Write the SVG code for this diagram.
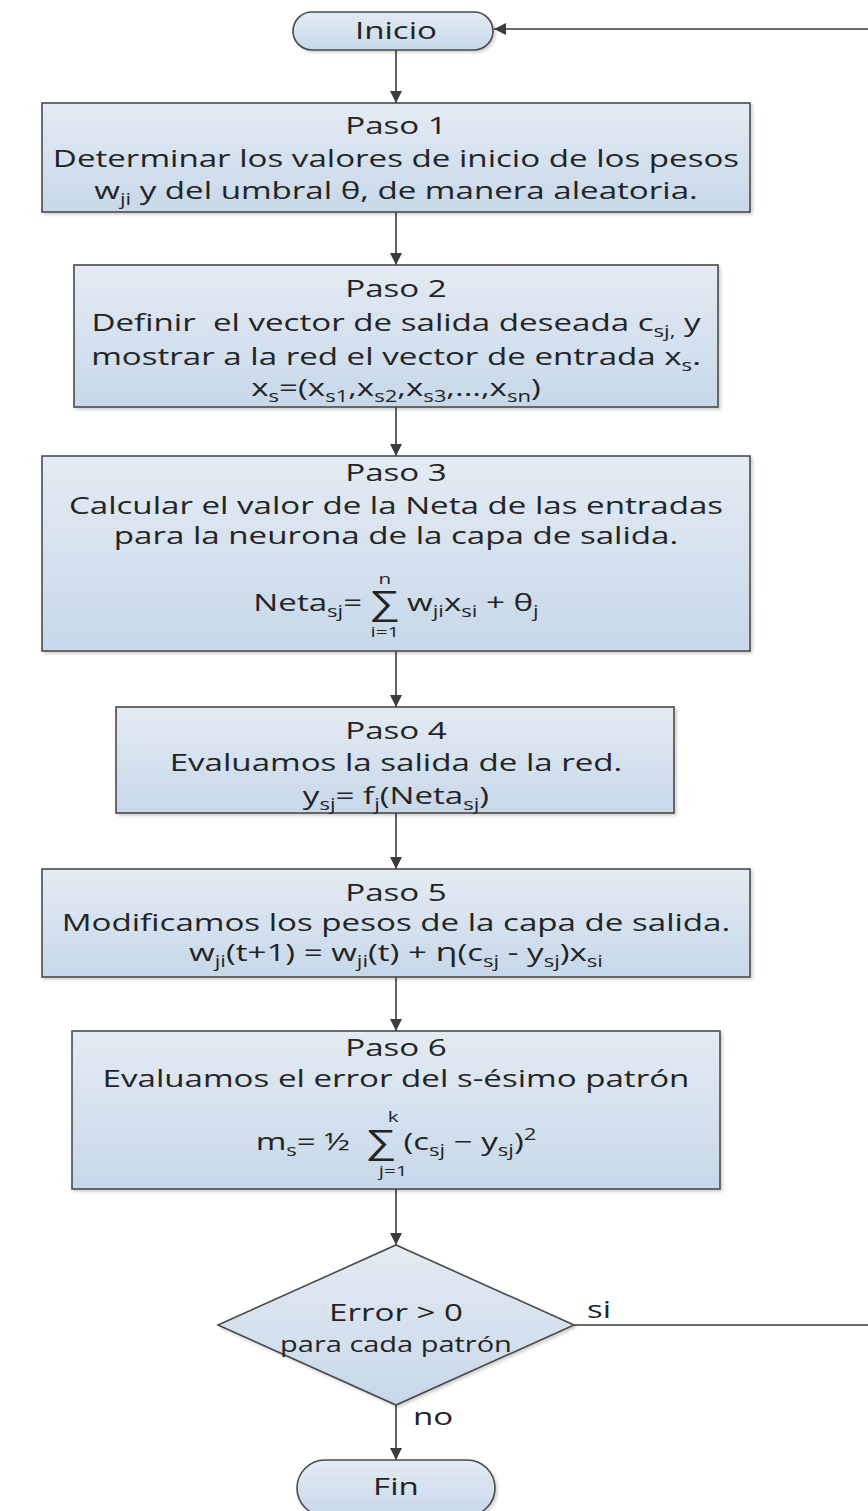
<svg xmlns="http://www.w3.org/2000/svg" width="868" height="1511" viewBox="0 0 868 1511">
<style>
.shape{fill:url(#gb);stroke:#4a4a4a;stroke-width:1.6;filter:url(#sh)}
.t{font-family:"Open Sans","Liberation Sans",sans-serif;font-size:24px;fill:#242424;text-anchor:middle}
.ts{text-anchor:start}
.sb{font-size:16px}
.sm{font-size:21px}
.sg{font-size:32px}
.lim{font-family:"Open Sans","Liberation Sans",sans-serif;font-size:15px;fill:#242424;text-anchor:middle}
.cn{fill:none;stroke:#3c3c3c;stroke-width:1.6}
</style>
<defs>
<linearGradient id="gb" x1="0" y1="0" x2="0" y2="1">
<stop offset="0" stop-color="#e4ebf3"/>
<stop offset="1" stop-color="#c7d8ea"/>
</linearGradient>
<filter id="sh" x="-5%" y="-5%" width="110%" height="115%">
<feDropShadow dx="2" dy="2" stdDeviation="1.5" flood-color="#000" flood-opacity="0.18"/>
</filter>
<marker id="ah" viewBox="0 0 12 12" refX="12" refY="6" markerWidth="12" markerHeight="12" markerUnits="userSpaceOnUse" orient="auto">
<path d="M0,0 L12,6 L0,12 z" fill="#3c3c3c"/>
</marker>
</defs>

<g id="connectors">
<path class="cn" d="M396,50 V103" marker-end="url(#ah)"/>
<path class="cn" d="M396,212 V265" marker-end="url(#ah)"/>
<path class="cn" d="M396,407 V456" marker-end="url(#ah)"/>
<path class="cn" d="M396,651 V707" marker-end="url(#ah)"/>
<path class="cn" d="M396,813 V869" marker-end="url(#ah)"/>
<path class="cn" d="M396,977 V1031" marker-end="url(#ah)"/>
<path class="cn" d="M396,1189 V1245" marker-end="url(#ah)"/>
<path class="cn" d="M396,1405 V1460" marker-end="url(#ah)"/>
<path class="cn" d="M574,1325 H872 V29 H494" marker-end="url(#ah)"/>
<text class="t ts" x="587" y="1318" transform="matrix(1.38 0 0 1 -223 0)">si</text>
<text class="t ts" x="413" y="1425" transform="matrix(1.38 0 0 1 -157 0)">no</text>
</g>

<g id="inicio">
<rect class="shape" x="293" y="12" width="200" height="38" rx="19"/>
<text class="t" x="396" y="39" transform="matrix(1.38 0 0 1 -150.48 0)">Inicio</text>
</g>

<g id="paso1">
<rect class="shape" x="42" y="103" width="708" height="109"/>
<g transform="matrix(1.38 0 0 1 -150.48 0)">
<text class="t" x="396" y="134">Paso 1</text>
<text class="t" x="396" y="167">Determinar los valores de inicio de los pesos</text>
<text class="t" x="396" y="199">w<tspan class="sb" dy="6">ji</tspan><tspan dy="-6"> y del umbral θ, de manera aleatoria.</tspan></text>
</g>
</g>

<g id="paso2">
<rect class="shape" x="74" y="265" width="644" height="142"/>
<g transform="matrix(1.38 0 0 1 -150.48 0)">
<text class="t" x="396" y="297">Paso 2</text>
<text class="t" x="396" y="331" xml:space="preserve">Definir  el vector de salida deseada c<tspan class="sb" dy="6">sj,</tspan><tspan dy="-6"> y</tspan></text>
<text class="t" x="396" y="365">mostrar a la red el vector de entrada x<tspan class="sb" dy="6">s</tspan><tspan dy="-6">.</tspan></text>
<text class="t" x="396" y="396">x<tspan class="sb" dy="6">s</tspan><tspan dy="-6">=(x</tspan><tspan class="sb" dy="6">s1</tspan><tspan dy="-6">,x</tspan><tspan class="sb" dy="6">s2</tspan><tspan dy="-6">,x</tspan><tspan class="sb" dy="6">s3</tspan><tspan dy="-6">,...,x</tspan><tspan class="sb" dy="6">sn</tspan><tspan dy="-6">)</tspan></text>
</g>
</g>

<g id="paso3">
<rect class="shape" x="42" y="456" width="708" height="195"/>
<g transform="matrix(1.38 0 0 1 -150.48 0)">
<text class="t" x="396" y="481">Paso 3</text>
<text class="t" x="396" y="514">Calcular el valor de la Neta de las entradas</text>
<text class="t" x="396" y="544">para la neurona de la capa de salida.</text>
<text class="t" x="396" y="611">Neta<tspan class="sb" dy="6">sj</tspan><tspan dy="-6">= </tspan><tspan class="sg" dy="3">∑</tspan><tspan dy="-3"> w</tspan><tspan class="sb" dy="6">ji</tspan><tspan dy="-6">x</tspan><tspan class="sb" dy="6">si</tspan><tspan dy="-6"> + θ</tspan><tspan class="sb" dy="6">j</tspan></text>
<text class="lim" x="388" y="584">n</text>
<text class="lim" x="388" y="637">i=1</text>
</g>
</g>

<g id="paso4">
<rect class="shape" x="116" y="707" width="558" height="106"/>
<g transform="matrix(1.38 0 0 1 -150.48 0)">
<text class="t" x="396" y="739">Paso 4</text>
<text class="t" x="396" y="771">Evaluamos la salida de la red.</text>
<text class="t" x="396" y="804">y<tspan class="sb" dy="6">sj</tspan><tspan dy="-6">= f</tspan><tspan class="sb" dy="6">j</tspan><tspan dy="-6">(Neta</tspan><tspan class="sb" dy="6">sj</tspan><tspan dy="-6">)</tspan></text>
</g>
</g>

<g id="paso5">
<rect class="shape" x="42" y="869" width="708" height="108"/>
<g transform="matrix(1.38 0 0 1 -150.48 0)">
<text class="t" x="396" y="901">Paso 5</text>
<text class="t" x="396" y="931">Modificamos los pesos de la capa de salida.</text>
<text class="t" x="396" y="961">w<tspan class="sb" dy="6">ji</tspan><tspan dy="-6">(t+1) = w</tspan><tspan class="sb" dy="6">ji</tspan><tspan dy="-6">(t) + </tspan><tspan font-size="26">η</tspan><tspan>(c</tspan><tspan class="sb" dy="6">sj</tspan><tspan dy="-6"> - y</tspan><tspan class="sb" dy="6">sj</tspan><tspan dy="-6">)x</tspan><tspan class="sb" dy="6">si</tspan></text>
</g>
</g>

<g id="paso6">
<rect class="shape" x="72" y="1031" width="648" height="158"/>
<g transform="matrix(1.38 0 0 1 -150.48 0)">
<text class="t" x="396" y="1056">Paso 6</text>
<text class="t" x="396" y="1087">Evaluamos el error del s-ésimo patrón</text>
<text class="t" x="396" y="1150" xml:space="preserve">m<tspan class="sb" dy="6">s</tspan><tspan dy="-6">= ½  </tspan><tspan class="sg" dy="3">∑</tspan><tspan dy="-3"> (c</tspan><tspan class="sb" dy="6">sj</tspan><tspan dy="-6"> − y</tspan><tspan class="sb" dy="6">sj</tspan><tspan dy="-6">)</tspan><tspan class="sb" dy="-10">2</tspan></text>
<text class="lim" x="394" y="1122">k</text>
<text class="lim" x="394" y="1176">j=1</text>
</g>
</g>

<g id="decision">
<polygon class="shape" points="396,1245 574,1325 396,1405 218,1325"/>
<g transform="matrix(1.38 0 0 1 -150.48 0)">
<text class="t" x="396" y="1321">Error &gt; 0</text>
<text class="t sm" x="396" y="1352">para cada patrón</text>
</g>
</g>

<g id="fin">
<rect class="shape" x="297" y="1460" width="198" height="56" rx="28"/>
<text class="t" x="396" y="1495" transform="matrix(1.38 0 0 1 -150.48 0)">Fin</text>
</g>
</svg>
